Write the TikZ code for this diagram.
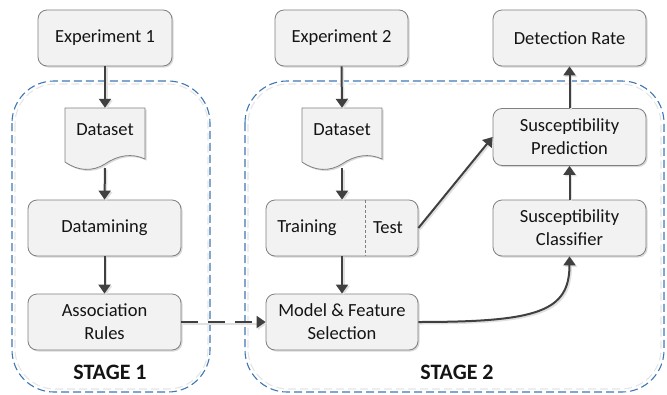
\documentclass[tikz,border=0pt]{standalone}
\usepackage{fontspec}
\setmainfont{Carlito}
\usetikzlibrary{arrows.meta,shadows,positioning}

\definecolor{boxfill}{HTML}{F2F2F2}
\definecolor{boxline}{HTML}{808080}
\definecolor{flow}{HTML}{404040}
\definecolor{stageblue}{HTML}{3F78B4}
\definecolor{ink}{HTML}{141414}

\tikzset{
  procbox/.style={draw=boxline, fill=boxfill, line width=0.8pt,
    rounded corners=9pt, minimum height=56pt, align=center,
    text=ink, inner sep=2pt,
    drop shadow={shadow xshift=1.5pt, shadow yshift=-1.5pt, fill=black, opacity=0.15}},
  doclabel/.style={text=ink, minimum width=80pt, minimum height=44pt, inner sep=0pt},
  docshape/.style={draw=boxline, fill=boxfill, line width=0.8pt,
    drop shadow={shadow xshift=1.5pt, shadow yshift=-1.5pt, fill=black, opacity=0.15}},
  flowarrow/.style={draw=flow, line width=2pt,
    -{Triangle[width=12pt,length=9pt]},
    preaction={draw=black!12, line width=2pt, -{Triangle[width=12pt,length=9pt]},
      transform canvas={shift={(1.5pt,-1.5pt)}}}},
  stageframe/.style={draw=stageblue, line width=1.1pt, dash pattern=on 8pt off 4pt,
    rounded corners=42pt},
  stageghost/.style={draw=black!10, line width=1.1pt, dash pattern=on 8pt off 4pt,
    rounded corners=40pt},
  stagelabel/.style={font=\bfseries\fontsize{22}{26}\selectfont, text=ink}
}

\begin{document}
\begin{tikzpicture}[x=1pt, y=-1pt, font=\fontsize{18.5}{23}\selectfont]
\useasboundingbox (0,0) rectangle (667,394);

% stage frames with their faint inner echo
\draw[stageghost] (15,84) rectangle (208,389);
\draw[stageframe] (12,81) rectangle (210,392);
\draw[stageghost] (248,84) rectangle (661,389);
\draw[stageframe] (245,81) rectangle (664,392);

% ---- stage 1 ----
\node[procbox, minimum width=134pt] (exp1) at (105,38) {Experiment 1};

\draw[docshape] (65,108) -- (145,108) -- (145,159)
  .. controls (132,153) and (118,155) .. (105,164)
  .. controls (92,172) and (78,171) .. (65,162) -- cycle;
\node[doclabel] (data1) at (105,130) {Dataset};
\coordinate (data1b) at (105,168);

\node[procbox, minimum width=153pt] (mine) at (104.5,228) {Datamining};
\node[procbox, minimum width=153pt] (rules) at (104.5,322) {Association\\Rules};
\node[stagelabel] (st1) at (110,372) {STAGE 1};

% ---- stage 2 ----
\node[procbox, minimum width=133pt] (exp2) at (341.5,38) {Experiment 2};
\node[procbox, minimum width=153pt] (rate) at (569.5,38) {Detection Rate};

\draw[docshape] (302,108) -- (382,108) -- (382,159)
  .. controls (369,153) and (355,155) .. (342,164)
  .. controls (329,172) and (315,171) .. (302,162) -- cycle;
\node[doclabel] (data2) at (342,130) {Dataset};
\coordinate (data2b) at (342,168);

\node[procbox, minimum width=152pt] (split) at (342,228) {};
\draw[boxline, line width=0.6pt, dash pattern=on 3pt off 2pt]
  (365,200.4) -- (365,255.6);
\node[text=ink] (train) at (307,228) {Training};
\node[text=ink] (test) at (388,228) {Test};

\node[procbox, minimum width=152pt] (model) at (342,322) {Model \& Feature\\Selection};

\node[procbox, minimum width=153pt, minimum height=57pt] (pred) at (569.5,137) {Susceptibility\\Prediction};
\node[procbox, minimum width=153pt] (clf) at (569.5,228) {Susceptibility\\Classifier};
\node[stagelabel] (st2) at (457,372) {STAGE 2};

% ---- connectors ----
\draw[flowarrow] (exp1.south) -- (data1.north);
\draw[flowarrow] (data1b) -- (mine.north);
\draw[flowarrow] (mine.south) -- (rules.north);
\draw[flowarrow, dash pattern=on 17pt off 10pt] (rules.east) -- (model.west);

\draw[flowarrow] (exp2.south) -- (data2.north);
\draw[flowarrow] (data2b) -- (split.north);
\draw[flowarrow] (split.south) -- (model.north);
\draw[flowarrow] (split.east) -- (pred.west);
\draw[flowarrow] (model.east) .. controls +(120,0) and +(0,55) .. (clf.south);
\draw[flowarrow] (clf.north) -- (pred.south);
\draw[flowarrow] (pred.north) -- (rate.south);
\end{tikzpicture}
\end{document}
